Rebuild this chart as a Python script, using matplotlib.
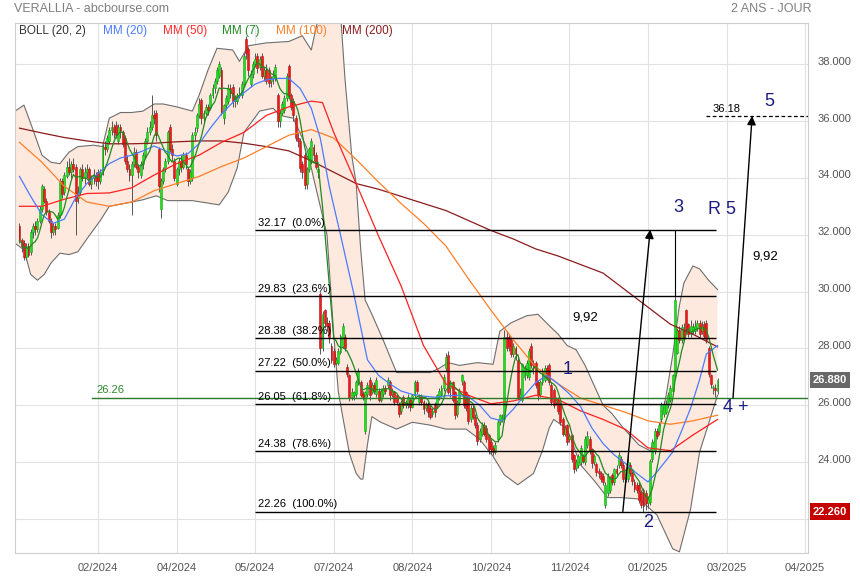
import numpy as np
import pandas as pd
import matplotlib
matplotlib.use("Agg")
import matplotlib.pyplot as plt
from matplotlib.transforms import blended_transform_factory, ScaledTranslation

plt.rcParams['font.family'] = ['Liberation Sans', 'DejaVu Sans']

# Daily candles (bar index 0 = early Jan 2024, last = end Feb 2025)
opens = [
    32.3, 31.8, 31.7, 31.2, 31.6, 31.4, 32.1, 32.3, 32.2, 32.5,
    32.9, 33.6, 33.2, 32.8, 32.5, 32.1, 32.3, 32.25, 32.7, 33.9,
    33.5, 34.05, 34.4, 34.2, 34.5, 34.4, 33.3, 33.5, 34.3, 34.0,
    34.2, 34.3, 33.8, 34.0, 34.1, 34.2, 33.9, 34.2, 35.1, 35.0,
    35.3, 35.7, 35.8, 35.85, 35.3, 35.8, 35.6, 35.4, 34.6, 34.3,
    34.1, 34.5, 34.9, 34.4, 34.1, 34.5, 34.8, 35.3, 35.6, 35.8,
    36.2, 36.3, 35.0, 32.9, 33.9, 34.3, 34.6, 35.8, 35.0, 34.6,
    33.8, 34.3, 34.6, 34.4, 34.8, 34.3, 33.9, 34.0, 35.5, 35.75,
    36.2, 36.75, 36.1, 36.3, 36.5, 36.45, 36.9, 37.15, 37.4, 37.6,
    37.8, 36.1, 36.55, 36.7, 37.15, 37.2, 36.7, 36.7, 36.9, 36.9,
    37.3, 38.9, 38.55, 37.3, 37.65, 38.0, 38.3, 37.9, 38.3, 37.6,
    37.8, 37.8, 37.4, 37.5, 37.5, 36.9, 36.0, 36.3, 36.4, 36.8,
    37.95, 36.9, 36.7, 36.1, 35.4, 35.3, 34.5, 34.8, 33.8, 34.3,
    34.6, 35.1, 34.8, 34.2, 29.9, 28.0, 29.35, 28.9, 28.9, 28.1,
    27.9, 27.5, 27.5, 27.86, 28.1, 28.4, 27.35, 27.05, 26.3, 26.35,
    26.4, 26.8, 26.8, 26.4, 25.1, 26.4, 26.9, 26.45, 26.7, 26.4,
    26.5, 26.2, 26.4, 26.6, 26.7, 26.8, 26.4, 26.45, 26.35, 26.05,
    25.8, 26.3, 26.0, 26.0, 26.2, 25.95, 26.35, 26.8, 26.1, 26.3,
    26.1, 25.9, 26.0, 25.9, 25.7, 26.0, 26.0, 26.3, 26.35, 26.6,
    27.3, 27.75, 26.6, 26.8, 26.45, 25.7, 26.1, 26.85, 26.8, 26.45,
    26.35, 25.5, 25.9, 25.6, 25.3, 24.8, 25.0, 25.3, 25.2, 24.95,
    24.7, 24.5, 24.35, 24.8, 25.4, 25.5, 25.5, 28.4, 28.4, 28.3,
    27.8, 28.0, 27.6, 26.3, 26.2, 27.0, 27.05, 27.0, 28.1, 27.5,
    27.5, 26.8, 26.4, 26.8, 26.9, 27.3, 27.4, 26.7, 26.55, 26.1,
    26.2, 26.0, 25.5, 25.0, 25.3, 24.8, 24.95, 24.25, 23.8, 23.9,
    24.0, 24.2, 24.0, 24.6, 24.8, 24.45, 24.0, 23.93, 23.7, 23.6,
    23.5, 22.5, 22.9, 23.0, 23.55, 23.3, 23.75, 23.9, 24.1, 23.9,
    23.45, 23.4, 23.9, 23.6, 23.3, 23.2, 23.2, 22.95, 23.0, 22.9,
    22.55, 22.6, 24.1, 24.4, 25.1, 25.05, 25.5, 25.7, 25.75, 26.0,
    26.2, 26.5, 27.05, 27.85, 28.65, 28.3, 28.6, 29.35, 28.85, 28.5,
    28.6, 28.6, 28.7, 28.9, 28.6, 28.85, 28.9, 28.0, 27.05, 26.6,
    26.6, 26.5,
]
highs = [
    32.4, 31.9, 31.8, 31.7, 31.7, 32.2, 32.4, 32.5, 32.6, 33.0,
    33.8, 33.7, 33.3, 32.9, 32.6, 32.4, 32.4, 32.8, 34.0, 34.0,
    34.2, 34.6, 34.7, 34.6, 34.7, 34.5, 33.7, 34.4, 34.5, 34.4,
    34.5, 34.4, 34.1, 34.3, 34.2, 34.3, 34.3, 35.2, 35.3, 35.5,
    35.8, 36.0, 35.9, 36.0, 35.9, 35.9, 35.7, 35.5, 34.8, 34.5,
    34.6, 35.1, 35.0, 34.5, 34.6, 34.9, 35.4, 35.8, 36.0, 36.9,
    36.4, 36.4, 35.1, 34.0, 34.4, 34.7, 35.7, 35.9, 35.2, 34.7,
    34.4, 34.7, 34.8, 34.9, 34.9, 34.4, 34.3, 35.6, 35.8, 36.3,
    36.8, 36.8, 36.4, 36.6, 36.6, 37.0, 37.3, 37.5, 37.9, 38.1,
    37.9, 36.6, 36.9, 37.3, 37.3, 37.3, 36.9, 37.0, 37.2, 37.4,
    38.4, 39.0, 38.6, 37.8, 38.1, 38.4, 38.4, 38.3, 38.4, 37.9,
    38.0, 37.9, 37.6, 37.8, 38.0, 37.0, 36.4, 36.7, 36.9, 37.7,
    38.0, 37.0, 36.8, 36.2, 35.6, 35.4, 34.6, 34.9, 34.4, 35.1,
    35.4, 35.2, 34.9, 34.5, 30.0, 29.3, 29.4, 29.1, 29.0, 28.2,
    28.0, 27.7, 28.0, 28.5, 28.9, 28.5, 27.45, 27.1, 26.6, 26.5,
    26.9, 27.3, 26.9, 26.5, 26.5, 26.8, 27.0, 26.8, 26.8, 27.0,
    26.6, 26.6, 26.7, 26.7, 27.0, 26.9, 26.6, 26.5, 26.4, 26.1,
    26.2, 26.35, 26.2, 26.4, 26.3, 26.4, 26.9, 26.9, 26.4, 26.4,
    26.2, 26.1, 26.1, 26.0, 25.9, 26.1, 26.4, 26.6, 26.7, 27.1,
    27.85, 27.9, 26.9, 26.85, 26.5, 26.2, 26.6, 27.1, 26.9, 26.5,
    26.4, 26.0, 26.0, 25.7, 25.4, 25.2, 25.4, 25.4, 25.3, 25.0,
    24.8, 24.6, 24.7, 25.5, 25.7, 25.7, 28.65, 28.6, 28.5, 28.4,
    28.2, 28.1, 27.7, 26.6, 27.5, 27.4, 27.6, 28.0, 28.2, 27.6,
    27.55, 26.9, 26.9, 27.3, 27.4, 27.4, 27.5, 26.8, 26.6, 26.3,
    26.3, 26.1, 25.6, 25.3, 25.35, 25.0, 25.0, 24.3, 24.1, 24.3,
    24.6, 24.3, 24.9, 25.1, 24.9, 24.5, 24.3, 24.0, 23.8, 23.7,
    23.6, 23.3, 23.6, 23.5, 23.6, 23.8, 23.9, 24.35, 24.2, 24.0,
    23.8, 24.5, 24.0, 23.7, 23.4, 23.3, 23.3, 23.0, 23.1, 23.0,
    22.8, 24.1, 24.8, 25.2, 25.2, 25.4, 26.1, 26.15, 26.2, 26.45,
    26.7, 27.1, 29.85, 28.7, 28.8, 28.85, 28.9, 29.4, 28.9, 29.0,
    28.9, 29.0, 29.0, 29.0, 28.95, 28.95, 29.0, 28.1, 27.1, 26.7,
    26.75, 26.95,
]
lows = [
    31.7, 31.4, 31.1, 31.1, 31.2, 31.3, 31.9, 32.0, 32.1, 32.4,
    32.8, 33.1, 32.7, 32.4, 31.9, 32.0, 32.0, 32.2, 32.6, 33.3,
    33.4, 34.0, 34.1, 34.0, 34.2, 32.0, 33.1, 33.4, 33.9, 33.8,
    34.0, 33.7, 33.6, 33.8, 33.7, 33.6, 33.8, 34.1, 34.8, 34.9,
    35.2, 35.5, 35.4, 35.4, 35.2, 35.4, 35.1, 34.5, 34.2, 33.9,
    32.7, 34.4, 34.3, 34.0, 34.0, 34.3, 34.7, 35.2, 35.5, 35.7,
    35.9, 35.3, 33.5, 32.6, 33.8, 34.2, 34.5, 34.9, 34.6, 33.9,
    33.7, 34.1, 34.2, 34.3, 34.3, 33.7, 33.8, 33.9, 35.3, 35.6,
    36.1, 35.9, 35.9, 36.2, 36.2, 36.4, 36.8, 37.0, 37.3, 37.5,
    36.2, 35.9, 36.4, 36.6, 36.8, 36.5, 36.5, 36.6, 36.8, 36.8,
    37.2, 38.2, 37.6, 37.2, 37.5, 37.9, 37.7, 37.8, 37.5, 37.4,
    37.3, 37.2, 37.2, 37.3, 37.4, 35.8, 35.8, 36.2, 36.3, 36.7,
    36.8, 36.4, 36.0, 35.3, 35.1, 34.2, 34.0, 33.6, 33.6, 34.2,
    34.5, 34.6, 34.3, 34.0, 27.8, 27.9, 28.7, 28.6, 28.2, 27.5,
    27.35, 27.4, 27.4, 27.8, 28.0, 27.9, 27.0, 26.15, 26.2, 26.2,
    26.3, 26.7, 26.3, 26.2, 25.0, 26.3, 26.2, 26.4, 26.4, 26.3,
    26.1, 26.1, 26.3, 26.4, 26.6, 26.2, 26.3, 26.0, 26.0, 25.6,
    25.7, 25.9, 25.9, 25.9, 25.8, 25.9, 26.3, 26.4, 26.0, 26.0,
    25.7, 25.8, 25.6, 25.5, 25.6, 25.6, 25.9, 26.2, 26.3, 26.5,
    27.2, 26.4, 26.3, 26.1, 25.5, 25.6, 26.0, 26.7, 25.9, 25.8,
    25.35, 25.4, 25.5, 25.2, 24.6, 24.7, 24.9, 24.9, 24.7, 24.3,
    24.3, 24.25, 24.3, 24.7, 25.3, 25.4, 25.4, 27.9, 27.9, 27.7,
    27.7, 27.6, 26.2, 26.2, 26.1, 26.9, 26.95, 26.9, 27.3, 27.1,
    26.6, 26.2, 26.3, 26.7, 26.8, 26.9, 26.7, 26.0, 25.9, 26.0,
    25.7, 25.3, 24.9, 24.9, 24.6, 24.7, 24.0, 23.6, 23.7, 23.8,
    23.9, 23.95, 23.9, 24.5, 24.3, 23.8, 23.9, 23.5, 23.45, 23.3,
    23.2, 22.4, 22.8, 22.9, 23.2, 23.2, 23.5, 23.8, 23.8, 23.3,
    23.3, 23.3, 23.5, 23.2, 22.95, 22.9, 22.55, 22.4, 22.26, 22.3,
    22.4, 22.5, 24.0, 24.3, 24.8, 24.95, 25.4, 25.6, 25.7, 25.9,
    26.1, 26.4, 27.0, 27.8, 28.2, 28.2, 28.3, 28.55, 28.4, 28.4,
    28.5, 28.5, 28.6, 28.4, 28.5, 28.35, 28.2, 27.0, 26.6, 26.4,
    26.3, 26.4,
]
closes = [
    31.8, 31.6, 31.2, 31.6, 31.3, 32.1, 32.3, 32.2, 32.5, 32.9,
    33.7, 33.2, 32.8, 32.5, 32.1, 32.3, 32.2, 32.7, 33.9, 33.45,
    34.1, 34.4, 34.2, 34.5, 34.3, 33.2, 33.5, 34.3, 34.0, 34.2,
    34.3, 33.8, 34.0, 34.1, 33.9, 33.9, 34.2, 35.1, 35.0, 35.4,
    35.7, 35.8, 35.6, 35.5, 35.8, 35.6, 35.2, 34.6, 34.3, 34.1,
    34.5, 34.9, 34.4, 34.2, 34.5, 34.8, 35.3, 35.6, 35.8, 36.2,
    36.1, 35.5, 33.7, 33.9, 34.3, 34.6, 35.6, 35.0, 34.8, 34.0,
    34.3, 34.6, 34.4, 34.8, 34.5, 33.9, 34.2, 35.5, 35.6, 36.2,
    36.6, 36.1, 36.3, 36.5, 36.4, 36.9, 37.15, 37.4, 37.8, 38.0,
    36.3, 36.55, 36.8, 37.15, 37.0, 36.7, 36.8, 36.9, 37.0, 37.3,
    38.3, 38.4, 37.8, 37.65, 38.0, 38.2, 37.85, 38.2, 37.6, 37.8,
    37.4, 37.35, 37.5, 37.6, 37.9, 36.0, 36.3, 36.6, 36.8, 37.6,
    36.9, 36.5, 36.2, 35.4, 35.3, 34.35, 34.2, 33.75, 34.3, 35.0,
    35.3, 34.8, 34.4, 34.3, 28.0, 29.2, 28.9, 28.8, 28.4, 27.6,
    27.45, 27.6, 27.9, 28.45, 28.8, 28.0, 27.1, 26.25, 26.45, 26.45,
    26.8, 27.2, 26.35, 26.3, 26.45, 26.7, 26.35, 26.7, 26.5, 26.9,
    26.2, 26.5, 26.6, 26.5, 26.9, 26.35, 26.45, 26.1, 26.1, 25.7,
    26.1, 26.0, 26.1, 26.3, 25.95, 26.35, 26.8, 26.5, 26.3, 26.1,
    25.85, 26.0, 25.75, 25.6, 25.8, 25.75, 26.35, 26.5, 26.6, 27.0,
    27.7, 26.45, 26.8, 26.2, 25.65, 26.1, 26.5, 27.05, 26.0, 25.9,
    25.45, 25.9, 25.6, 25.3, 24.75, 25.1, 25.3, 25.0, 24.8, 24.45,
    24.45, 24.35, 24.6, 25.4, 25.65, 25.6, 28.4, 28.0, 28.1, 27.8,
    28.1, 27.8, 26.3, 26.4, 27.45, 27.3, 27.5, 27.9, 27.4, 27.3,
    26.7, 26.35, 26.8, 27.2, 27.3, 27.0, 26.8, 26.1, 26.0, 26.2,
    25.8, 25.4, 25.0, 25.2, 24.7, 24.9, 24.1, 23.75, 24.0, 24.2,
    24.5, 24.05, 24.8, 24.9, 24.4, 23.95, 24.2, 23.65, 23.6, 23.4,
    23.3, 23.2, 23.5, 23.4, 23.3, 23.75, 23.6, 24.25, 23.9, 23.4,
    23.7, 24.0, 23.6, 23.35, 23.05, 23.0, 22.65, 22.5, 22.45, 22.55,
    22.7, 24.05, 24.7, 25.1, 24.9, 25.3, 26.0, 26.05, 26.05, 26.35,
    26.6, 27.05, 29.7, 28.6, 28.3, 28.75, 28.4, 28.65, 28.5, 28.8,
    28.75, 28.8, 28.9, 28.5, 28.8, 28.45, 28.3, 27.1, 26.75, 26.6,
    26.55, 26.88,
]
assert len(opens) == len(highs) == len(lows) == len(closes)

# Moving averages (bar index, value)
mm200_idx = [0, 10, 20, 30, 40, 50, 60, 70, 80, 90, 100, 110, 120, 130, 140, 150,
             160, 170, 180, 190, 200, 210, 220, 230, 240, 250, 260, 270, 280, 290, 300, 311]
mm200 = [35.75, 35.58, 35.42, 35.3, 35.2, 35.2, 35.22, 35.27, 35.3, 35.3, 35.22, 35.1,
         34.95, 34.6, 34.2, 33.8, 33.6, 33.35, 33.1, 32.85, 32.5, 32.15, 31.85, 31.5,
         31.25, 30.95, 30.65, 30.05, 29.45, 28.85, 28.5, 28.05]
mm100 = [35.25, 34.55, 33.7, 33.15, 33.0, 33.15, 33.55, 33.8, 34.05, 34.4, 34.7, 35.1,
         35.5, 35.7, 35.4, 34.65, 33.85, 33.1, 32.4, 31.6, 30.45, 29.35, 28.3, 27.35,
         26.75, 26.25, 26.0, 25.75, 25.45, 25.33, 25.45, 25.65]
mm50_idx = [0, 10, 20, 30, 40, 50, 60, 70, 80, 90, 100, 110, 120, 130, 135, 140, 150,
            160, 170, 180, 190, 200, 210, 220, 230, 240, 250, 260, 270, 280, 290, 300, 311]
mm50 = [33.0, 33.0, 33.25, 33.45, 33.47, 33.65, 34.1, 34.5, 34.8, 35.25, 35.6, 36.2,
        36.5, 36.7, 36.65, 35.6, 33.8, 31.95, 30.2, 28.1, 26.75, 26.35, 26.05, 26.15,
        26.35, 26.2, 25.8, 25.5, 25.15, 24.5, 24.4, 24.95, 25.5]
mm20_idx = [0, 5, 10, 15, 20, 25, 30, 35, 40, 45, 50, 55, 60, 65, 70, 75, 80, 85, 90, 95,
            100, 105, 110, 115, 120, 125, 130, 134, 138, 143, 149, 155, 160, 165, 170,
            175, 180, 185, 190, 195, 200, 205, 210, 215, 220, 225, 230, 235, 240, 245,
            250, 255, 260, 265, 270, 275, 280, 284, 288, 291, 295, 299, 303, 306, 311]
mm20 = [34.05, 33.35, 32.7, 32.4, 32.55, 33.3, 33.8, 34.15, 34.5, 34.7, 34.8, 34.95,
        35.12, 34.95, 34.77, 34.85, 35.2, 35.75, 36.25, 36.65, 37.0, 37.3, 37.45, 37.5,
        37.5, 37.15, 36.45, 35.4, 33.7, 32.0, 29.9, 27.6, 27.05, 26.75, 26.5, 26.38,
        26.32, 26.28, 26.33, 26.35, 26.3, 26.0, 25.55, 25.45, 25.86, 26.35, 26.8, 27.05,
        26.75, 26.4, 25.95, 25.2, 24.65, 24.25, 23.95, 23.6, 23.3, 23.65, 24.05, 24.35,
        25.1, 25.9, 26.9, 27.8, 28.1]

# Bollinger (20, 2) envelope
bb_up_idx = [-2, 2, 6, 10, 14, 18, 22, 26, 33, 37, 40, 45, 50, 55, 60, 64, 70, 77, 80, 84,
             88, 95, 98, 102, 110, 120, 126, 130, 133, 136, 142, 145, 148, 150, 152, 154,
             157, 162, 168, 175, 183, 187, 191, 196, 204, 211, 214, 219, 226, 231, 236,
             240, 244, 248, 252, 256, 260, 264, 269, 276, 281, 285, 288, 291, 294, 296,
             300, 303, 307, 311]
bb_up = [36.35, 36.56, 35.7, 34.8, 34.55, 34.5, 34.9, 35.1, 35.15, 35.1, 36.1, 36.3,
         36.3, 36.35, 36.6, 36.6, 36.5, 36.35, 36.9, 37.8, 38.56, 38.5, 38.1, 38.65,
         38.75, 38.8, 39.0, 38.5, 39.6, 41.0, 41.0, 37.5, 34.8, 33.8, 31.5, 29.7, 29.2,
         28.3, 27.15, 27.15, 27.15, 27.3, 27.5, 27.4, 27.5, 27.44, 28.6, 28.9, 29.15,
         29.2, 28.8, 28.5, 28.1, 27.95, 27.4, 26.7, 26.0, 25.7, 25.2, 24.6, 24.4, 25.1,
         26.3, 27.75, 29.5, 30.3, 30.9, 30.8, 30.4, 30.07]
bb_lo_idx = [-2, 2, 5, 8, 11, 14, 18, 22, 26, 31, 36, 40, 48, 55, 61, 66, 77, 89, 93, 97,
             100, 107, 113, 116, 122, 128, 131, 134, 137, 140, 142, 144, 147, 150, 152,
             153, 155, 157, 161, 168, 175, 183, 190, 199, 205, 211, 216, 222, 229, 233,
             236, 238, 244, 250, 256, 262, 268, 276, 284, 291, 294, 299, 303, 311]
bb_lo = [31.7, 31.47, 30.6, 30.4, 30.6, 31.0, 31.35, 31.3, 31.4, 31.96, 32.5, 33.0,
         33.12, 33.23, 33.37, 33.2, 33.2, 33.05, 33.5, 34.35, 35.6, 36.35, 36.45, 36.2,
         36.1, 35.05, 34.0, 33.0, 32.0, 28.5, 26.5, 25.6, 24.3, 23.6, 23.4, 23.4, 24.6,
         25.6, 25.4, 25.16, 25.4, 25.3, 25.16, 25.16, 24.8, 24.2, 23.55, 23.2, 23.6, 24.4,
         25.2, 25.5, 25.16, 23.9, 23.35, 22.75, 22.75, 22.7, 22.14, 20.95, 20.84, 22.35,
         24.35, 26.35]

# Fibonacci retracement
fib_prices = [32.17, 29.83, 28.38, 27.22, 26.05, 24.38, 22.26]
fib_pcts = [0.0, 23.6, 38.2, 50.0, 61.8, 78.6, 100.0]
support = 26.26
wave = 9.92
target = 36.18

date_ticks = [35, 70, 105, 140, 175, 210, 245, 280, 315, 350]
date_labels = ['02/2024', '04/2024', '05/2024', '07/2024', '08/2024',
               '10/2024', '11/2024', '01/2025', '03/2025', '04/2025']

fig = plt.figure(figsize=(8.6, 5.8), dpi=100)
ax = fig.add_axes([15 / 860, 1 - 553 / 580, 793 / 860, 530 / 580])
ax.set_xlim(-2, 351.3)
ax.set_ylim(20.8, 39.45)

# bollinger envelope
ax.fill(np.r_[bb_up_idx, bb_lo_idx[::-1]], np.r_[bb_up, bb_lo[::-1]],
        color='#fde9de', lw=0, zorder=1)
ax.plot(bb_up_idx, bb_up, color='#6e6e6e', lw=0.8, zorder=2)
ax.plot(bb_lo_idx, bb_lo, color='#6e6e6e', lw=0.8, zorder=2)

# candles
x = np.arange(len(closes))
o = np.array(opens)
c = np.array(closes)
h = np.array(highs)
l = np.array(lows)
up = c >= o
ax.vlines(x, l, h, color='#555555', lw=0.7, zorder=3)
body = np.maximum(np.abs(c - o), 0.04)
bottom = np.minimum(o, c)
ax.bar(x[up], body[up], bottom=bottom[up], width=0.85, color='#22dd22',
       edgecolor='#12a812', lw=0.4, zorder=4)
ax.bar(x[~up], body[~up], bottom=bottom[~up], width=0.85, color='#ee1b1b',
       edgecolor='#b51010', lw=0.4, zorder=4)

# moving averages
mm7 = pd.Series(closes).rolling(7, min_periods=1).mean()
ax.plot(mm200_idx, mm200, color='#8b1c1c', lw=0.9, zorder=5)
ax.plot(mm200_idx, mm100, color='#ff7f27', lw=0.9, zorder=5)
ax.plot(mm50_idx, mm50, color='#ff2020', lw=0.9, zorder=5)
ax.plot(mm20_idx, mm20, color='#4a7bff', lw=0.9, zorder=5)
ax.plot(x, mm7, color='#1f8a1f', lw=0.9, zorder=5)

# fibonacci levels
for price, pct in zip(fib_prices, fib_pcts):
    ax.hlines(price, 105, 310.5, color='black', lw=1, zorder=6)
    ax.annotate(f'{price:.2f}  ({pct:.1f}%)', (105, price), xytext=(2, 1.5),
                textcoords='offset points', fontsize=8, va='bottom', ha='left', zorder=7)

# support line
ax.axhline(support, xmin=(92 - 15) / 793, color='#2b7a2b', lw=1, zorder=6)
ax.annotate(f'{support:.2f}', (34.5, support), xytext=(0, 2), textcoords='offset points',
            fontsize=8, color='#2b8a2b', va='bottom', ha='left')

# elliott projections
arrow = dict(arrowstyle='-|>', color='black', lw=1, mutation_scale=13, shrinkA=0, shrinkB=0)
ax.annotate('', xy=(281.0, fib_prices[-1] + wave), xytext=(268.8, fib_prices[-1]),
            arrowprops=arrow, zorder=7)
ax.annotate('', xy=(326.4, support + wave), xytext=(317.9, support),
            arrowprops=arrow, zorder=7)
ax.vlines(292, 29.85, fib_prices[0], color='black', lw=0.8, zorder=6)
ax.hlines(target, 305.9, 351.3, color='black', lw=0.9, ls=(0, (3, 2)), zorder=6)
ax.text(315.2, 36.42, f'{target:.2f}', fontsize=8, ha='center', va='center')

navy = '#1c1c80'
for txt, xi, yi in [('1', 244.2, 27.27), ('2', 280.1, 21.89), ('3', 293.4, 32.97),
                    ('R 5', 313.0, 32.87), ('4 +', 319.3, 25.93), ('5', 334.0, 36.70)]:
    ax.text(xi, yi, txt, fontsize=13, color=navy, ha='center', va='center', zorder=8)
ax.text(252.0, 29.10, '9,92', fontsize=9.5, ha='center', va='center', zorder=8)
ax.text(332.4, 31.25, '9,92', fontsize=9.5, ha='center', va='center', zorder=8)

# axes styling
ax.set_xticks(date_ticks)
ax.set_xticklabels(date_labels)
ax.yaxis.tick_right()
yt = np.arange(22, 39, 2)
ax.set_yticks(yt)
ax.set_yticklabels(['' if v == 22 else f'{v:.3f}' for v in yt])
ax.tick_params(length=0, labelsize=8, colors='#555555')
ax.tick_params(axis='x', pad=7)
ax.tick_params(axis='y', pad=7)
lift = ScaledTranslation(0, 2.5 / 72, fig.dpi_scale_trans)
for lab in ax.get_yticklabels():
    lab.set_transform(lab.get_transform() + lift)
ax.grid(color='#e2e2e2', lw=0.8)
ax.set_axisbelow(True)
for sp in ax.spines.values():
    sp.set_color('#cfcfcf')
    sp.set_linewidth(0.8)

# price tags on the right axis
tr = blended_transform_factory(ax.transAxes, ax.transData)
ax.text(1.006, closes[-1], f'{closes[-1]:.3f}', transform=tr, ha='left', va='center',
        color='white', fontsize=8, fontweight='bold', clip_on=False,
        bbox=dict(boxstyle='square,pad=0.28', fc='#686868', ec='none'))
ax.text(1.006, min(lows), f'{min(lows):.3f}', transform=tr, ha='left', va='center',
        color='white', fontsize=8, fontweight='bold', clip_on=False,
        bbox=dict(boxstyle='square,pad=0.28', fc='#c40000', ec='none'))

# legend row
legend = [('BOLL (20, 2)', '#333333', 19), ('MM (20)', '#4a7bff', 103),
          ('MM (50)', '#ff2a2a', 163), ('MM (7)', '#1f8a1f', 222),
          ('MM (100)', '#ff7f27', 276), ('MM (200)', '#8b1c1c', 342)]
for txt, col, px in legend:
    ax.text((px - 15) / 793, (553 - 31) / 530, txt, transform=ax.transAxes,
            color=col, fontsize=8.5, va='center', ha='left', zorder=9)

fig.text(14 / 860, 1 - 9 / 580, 'VERALLIA - abcbourse.com', color='#7f7f7f',
         fontsize=9, va='center', ha='left')
fig.text(812 / 860, 1 - 9 / 580, '2 ANS - JOUR', color='#7f7f7f',
         fontsize=9, va='center', ha='right')

fig.savefig('out.png', dpi=100)
